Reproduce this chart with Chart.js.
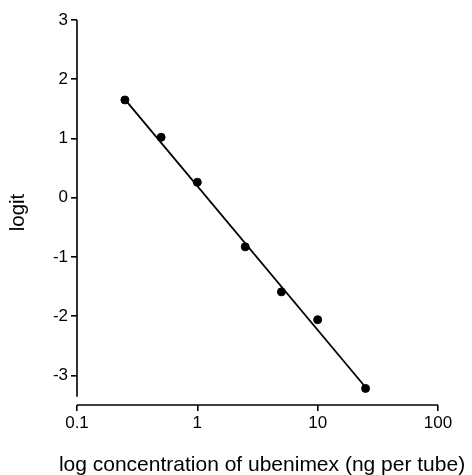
<!DOCTYPE html>
<html>
<head>
<meta charset="utf-8">
<script src="https://cdn.jsdelivr.net/npm/chart.js@4/dist/chart.umd.min.js"></script>
<style>
  html, body { margin: 0; padding: 0; background: #fff; }
  #wrap { width: 472px; height: 475px; }
</style>
</head>
<body>
<div id="wrap"><canvas id="myChart"></canvas></div>
<script>
// Datos medidos (concentración, logit)
const concentrations = [0.25, 0.5, 1, 2.5, 5, 10, 25];
const logits = [1.65, 1.02, 0.26, -0.83, -1.59, -2.06, -3.22];

// Recta ajustada
const fitX = [0.25, 25];
const fitY = [1.66, -3.2];

// Marcas de los ejes
const xTicks = [0.1, 1, 10, 100];
const yTicks = [-3, -2, -1, 0, 1, 2, 3];

const xTitle = "log concentration of ubenimex (ng per tube)";
const font = "'Liberation Sans', Arial, sans-serif";

// Dibuja los ejes separados en la esquina y el título del eje x
// (el título de Chart.js se comprime al ancho del área)
const axisLines = {
  id: "axisLines",
  afterDraw(chart) {
    const { ctx, chartArea, scales } = chart;
    ctx.save();
    ctx.strokeStyle = "#000";
    ctx.lineWidth = 1.6;
    ctx.beginPath();
    ctx.moveTo(chartArea.left, chartArea.top);
    ctx.lineTo(chartArea.left, scales.y.getPixelForValue(-3.36));
    ctx.moveTo(chartArea.left, chartArea.bottom);
    ctx.lineTo(chartArea.right, chartArea.bottom);
    ctx.stroke();

    ctx.fillStyle = "#000";
    ctx.font = "21px " + font;
    ctx.textAlign = "center";
    ctx.textBaseline = "middle";
    ctx.fillText(xTitle, chartArea.left + 185, chartArea.bottom + 60);
    ctx.restore();
  },
};

document.addEventListener("DOMContentLoaded", () => {
  const ctx = document.getElementById("myChart").getContext("2d");
  new Chart(ctx, {
    type: "scatter",
    data: {
      datasets: [
        {
          data: concentrations.map((x, i) => ({ x: x, y: logits[i] })),
          backgroundColor: "#000",
          borderColor: "#000",
          pointRadius: 4,
        },
        {
          data: fitX.map((x, i) => ({ x: x, y: fitY[i] })),
          showLine: true,
          borderColor: "#000",
          borderWidth: 1.8,
          pointRadius: 0,
        },
      ],
    },
    options: {
      responsive: true,
      maintainAspectRatio: false,
      animation: false,
      layout: { padding: { top: 20, right: 34, left: 0, bottom: 0 } },
      plugins: { legend: { display: false }, tooltip: { enabled: false } },
      scales: {
        x: {
          type: "logarithmic",
          min: 0.1,
          max: 100,
          afterBuildTicks: (scale) => {
            scale.ticks = xTicks.map((v) => ({ value: v }));
          },
          afterFit: (scale) => {
            scale.height = 70;
          },
          border: { display: false },
          grid: { drawOnChartArea: false, drawTicks: true, tickLength: 6, color: "#000", lineWidth: 1.6 },
          ticks: {
            color: "#000",
            font: { family: font, size: 17 },
            padding: 2,
            maxRotation: 0,
            callback: (v) => String(v),
          },
          title: { display: false },
        },
        y: {
          min: -3.5,
          max: 3,
          afterBuildTicks: (scale) => {
            scale.ticks = yTicks.map((v) => ({ value: v }));
          },
          afterFit: (scale) => {
            scale.width = 77;
          },
          border: { display: false },
          grid: { drawOnChartArea: false, drawTicks: true, tickLength: 6, color: "#000", lineWidth: 1.6 },
          ticks: {
            color: "#000",
            font: { family: font, size: 17 },
            padding: 3,
          },
          title: {
            display: true,
            text: "logit",
            color: "#000",
            font: { family: font, size: 20.5 },
            padding: { top: 6, bottom: 0 },
          },
        },
      },
    },
    plugins: [axisLines],
  });
});
</script>
</body>
</html>
